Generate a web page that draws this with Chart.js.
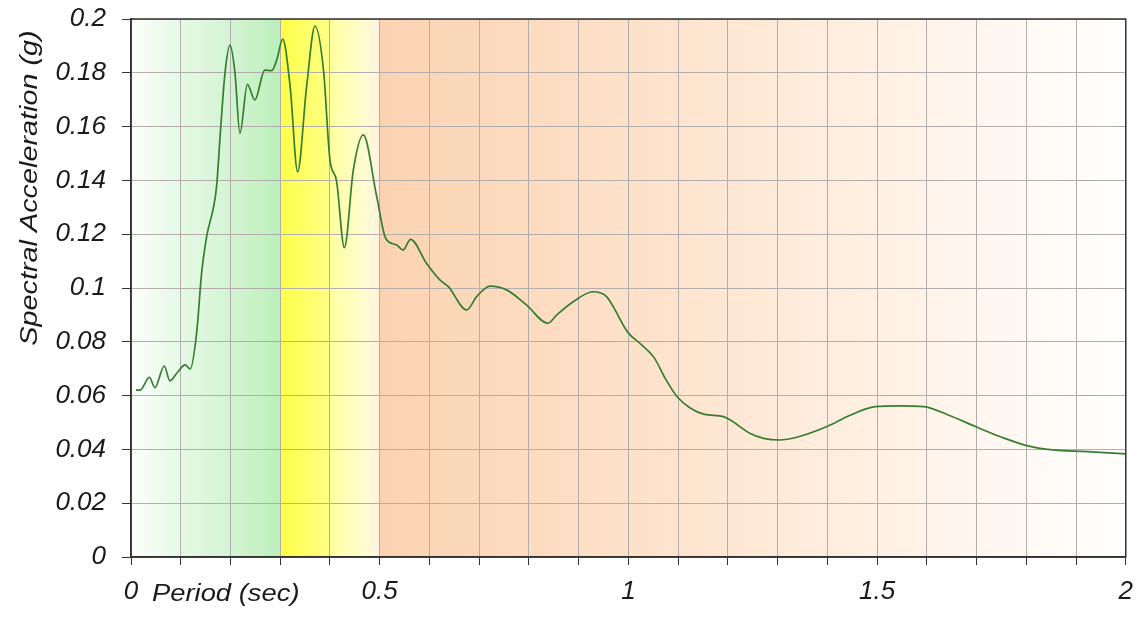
<!DOCTYPE html>
<html>
<head>
<meta charset="utf-8">
<style>
  html, body { margin: 0; padding: 0; background: #fff; }
  #wrap { width: 1144px; height: 619px; }
</style>
</head>
<body>
<div id="wrap"><canvas id="spectrum"></canvas></div>
<script src="https://cdn.jsdelivr.net/npm/chart.js"></script>
<script>
  // period (sec) and spectral acceleration (g)
  const periods = [
    0.010, 0.018, 0.037, 0.048, 0.067, 0.078, 0.092, 0.109, 0.119, 0.132,
    0.142, 0.152, 0.172, 0.180, 0.189, 0.199, 0.209, 0.219, 0.234, 0.249,
    0.269, 0.283, 0.293, 0.305, 0.320, 0.335, 0.353, 0.370, 0.387, 0.400,
    0.413, 0.429, 0.447, 0.467, 0.494, 0.512, 0.534, 0.547, 0.562, 0.594,
    0.621, 0.638, 0.675, 0.695, 0.722, 0.755, 0.795, 0.838, 0.856, 0.889,
    0.929, 0.956, 0.999, 1.027, 1.051, 1.076, 1.098, 1.125, 1.153, 1.191,
    1.205, 1.244, 1.272, 1.303, 1.342, 1.398, 1.447, 1.496, 1.545, 1.594,
    1.643, 1.699, 1.748, 1.801, 1.853, 1.923, 2.000
  ];
  const accel = [
    0.0621, 0.0620, 0.0668, 0.0630, 0.0710, 0.0655, 0.0683, 0.0714, 0.0699, 0.0833,
    0.1056, 0.1190, 0.1377, 0.1587, 0.1800, 0.1903, 0.1800, 0.1575, 0.1757, 0.1699,
    0.1810, 0.1808, 0.1848, 0.1925, 0.1748, 0.1432, 0.1748, 0.1974, 0.1810, 0.1476,
    0.1400, 0.1150, 0.1439, 0.1569, 0.1340, 0.1185, 0.1160, 0.1141, 0.1181, 0.1092,
    0.1030, 0.1005, 0.0918, 0.0968, 0.1007, 0.0993, 0.0937, 0.0869, 0.0900, 0.0949,
    0.0986, 0.0968, 0.0835, 0.0788, 0.0743, 0.0658, 0.0596, 0.0553, 0.0530, 0.0522,
    0.0509, 0.0460, 0.0441, 0.0435, 0.0447, 0.0484, 0.0528, 0.0559, 0.0562, 0.0559,
    0.0528, 0.0484, 0.0447, 0.0414, 0.0398, 0.0392, 0.0383
  ];
  // period ranges of the shaded bands
  const zoneEdges = [0, 0.3, 0.5, 2];
  const xLabelValues = [0, 0.5, 1, 1.5, 2];

  const FONT = "'Liberation Sans', Arial, sans-serif";
  const TEXT = "#1a1a1a";

  // colour stops for each band (position inside band, colour)
  const zoneStops = [
    [[0, "#fcfefc"], [0.33, "#e6f9e6"], [0.66, "#d4f4d4"], [1, "#bcefba"]],
    [[0, "#ffff48"], [0.45, "#ffff80"], [0.55, "#ffffa8"], [0.85, "#fffcd0"], [1, "#fff3e2"]],
    [[0, "#fbd3b2"], [0.33, "#fde1c9"], [0.66, "#fff0e3"], [1, "#ffffff"]]
  ];

  const bandPlugin = {
    id: "bands",
    beforeDraw(chart) {
      const { ctx, chartArea } = chart;
      const xs = chart.scales.x;
      ctx.save();
      for (let i = 0; i < zoneEdges.length - 1; i++) {
        const x0 = xs.getPixelForValue(zoneEdges[i]);
        const x1 = xs.getPixelForValue(zoneEdges[i + 1]);
        const g = ctx.createLinearGradient(x0, 0, x1, 0);
        zoneStops[i].forEach(s => g.addColorStop(s[0], s[1]));
        ctx.fillStyle = g;
        ctx.fillRect(x0, chartArea.top, x1 - x0, chartArea.bottom - chartArea.top);
      }
      ctx.restore();
    },
    afterDraw(chart) {
      const { ctx, chartArea } = chart;
      ctx.save();
      // frame
      ctx.strokeStyle = "#333";
      ctx.lineWidth = 1.5;
      ctx.strokeRect(chartArea.left, chartArea.top,
        chartArea.right - chartArea.left, chartArea.bottom - chartArea.top);

      ctx.fillStyle = TEXT;
      // x title sits next to the "0" label
      ctx.font = "italic 24px " + FONT;
      ctx.textBaseline = "alphabetic";
      ctx.textAlign = "left";
      ctx.save();
      ctx.translate(chartArea.left + 21, 601);
      ctx.scale(1.14, 1);
      ctx.fillText("Period (sec)", 0, 0);
      ctx.restore();

      // y title
      ctx.save();
      ctx.translate(37, 188);
      ctx.rotate(-Math.PI / 2);
      ctx.scale(1.2, 1);
      ctx.textAlign = "center";
      ctx.font = "italic 24px " + FONT;
      ctx.fillText("Spectral Acceleration (g)", 0, 0);
      ctx.restore();
      ctx.restore();
    }
  };

  const points = periods.map((p, i) => ({ x: p, y: accel[i] }));

  new Chart(document.getElementById("spectrum").getContext("2d"), {
    type: "line",
    data: {
      datasets: [{
        data: points,
        borderColor: "#377d30",
        borderWidth: 1.7,
        pointRadius: 0,
        fill: false,
        cubicInterpolationMode: "monotone"
      }]
    },
    options: {
      responsive: true,
      maintainAspectRatio: false,
      animation: false,
      layout: { padding: { top: 19, right: 18, left: 0, bottom: 0 } },
      plugins: { legend: { display: false }, tooltip: { enabled: false } },
      scales: {
        x: {
          type: "linear",
          min: 0,
          max: 2,
          afterFit: s => { s.height = 62; },
          grid: { color: "#b3adab", lineWidth: 1, tickColor: "#333", tickLength: 8 },
          border: { color: "#333", width: 1.5 },
          ticks: {
            stepSize: 0.1,
            autoSkip: false,
            maxRotation: 0,
            padding: 11,
            color: TEXT,
            font: { family: FONT, size: 26, style: "italic" },
            callback: v => xLabelValues.some(l => Math.abs(l - v) < 1e-6) ? String(+v.toFixed(1)) : ""
          }
        },
        y: {
          min: 0,
          max: 0.2,
          afterFit: s => { s.width = 131; s.paddingTop = 0; s.paddingBottom = 0; },
          grid: { color: "#b3adab", lineWidth: 1, tickColor: "#333", tickLength: 9 },
          border: { color: "#333", width: 1.5 },
          ticks: {
            stepSize: 0.02,
            padding: 16,
            color: TEXT,
            font: { family: FONT, size: 26, style: "italic" },
            callback: v => String(+v.toFixed(2))
          }
        }
      }
    },
    plugins: [bandPlugin]
  });
</script>
</body>
</html>
